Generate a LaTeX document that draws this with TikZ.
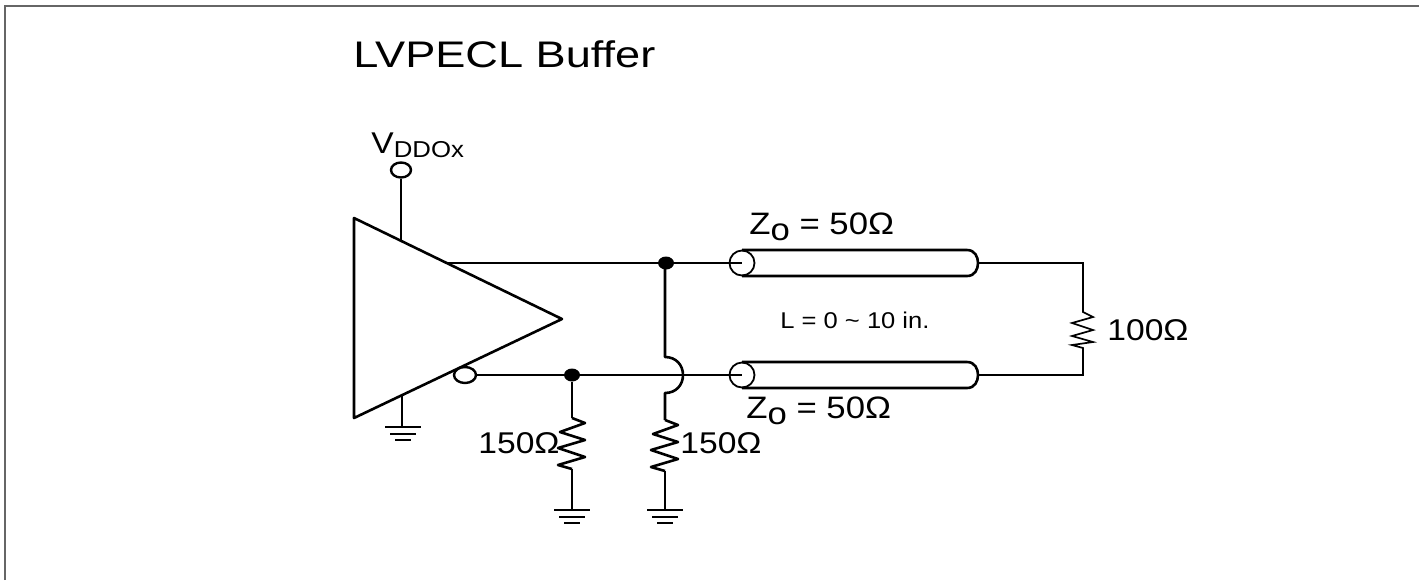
\documentclass[tikz,border=0pt]{standalone}
\usepackage{fontspec}
\setmainfont[FakeStretch=1.12]{Liberation Sans}
\newfontfamily\titlefont[FakeStretch=1.22]{Liberation Sans}
\usetikzlibrary{shapes.geometric}
\tikzset{
  wire/.style = {line width = 1.3pt, line join = round},
  thinwire/.style = {line width = 0.85pt},
  frameline/.style = {line width = 1pt, black!60},
  junction/.style = {ellipse, fill = black, inner sep = 0pt, minimum width = 8pt, minimum height = 6.5pt},
  pinhole/.style = {ellipse, draw, line width = 1.2pt, fill = white, inner sep = 0pt, minimum width = 10pt, minimum height = 7.5pt},
  tlinehead/.style = {ellipse, draw, line width = 0.9pt, inner sep = 0pt, minimum width = 12.5pt, minimum height = 12.5pt},
  lbl/.style = {anchor = base west, inner sep = 0pt, font = \fontsize{15}{15}\selectfont},
  zlbl/.style = {anchor = base west, inner sep = 0pt, font = \fontsize{15.5}{15.5}\selectfont},
  smalllbl/.style = {anchor = base west, inner sep = 0pt, font = \fontsize{11.4}{11.4}\selectfont}
}
\newcommand{\GndSym}[2]{
  \draw[wire] (#1 - 18, #2) -- (#1 + 18, #2);
  \draw[wire] (#1 - 13, #2 + 7) -- (#1 + 13, #2 + 7);
  \draw[wire] (#1 - 8, #2 + 13) -- (#1 + 8, #2 + 13);
}
\newcommand{\ResTall}[3]{
  \coordinate (#1top) at (#2, #3);
  \coordinate (#1bot) at (#2, #3 + 51);
  \draw[wire] (#1top) -- ++(13, 5) -- ++(-25, 9) -- ++(25, 8) -- ++(-27, 8) -- ++(27, 9) -- ++(-27, 8) -- (#1bot);
}
\newcommand{\TLine}[2]{
  \node[tlinehead] (#1) at (742, #2) {};
  \draw[wire] (742, #2 - 13) -- (967, #2 - 13) .. controls (975, #2 - 13) and (978, #2 - 6) .. (978, #2)
    .. controls (978, #2 + 6) and (975, #2 + 13) .. (967, #2 + 13) -- (742, #2 + 13);
  \coordinate (#1end) at (978, #2);
}
\begin{document}
\begin{tikzpicture}[x = 0.5pt, y = -0.5pt]
\useasboundingbox (0, 0) rectangle (1419, 580);
\draw[frameline] (5, 580) -- (5, 6) -- (1419, 6);

\node[anchor = base west, inner sep = 0pt, font = \titlefont\fontsize{18.5}{18.5}\selectfont] (title) at (353, 67) {LVPECL Buffer};

% buffer
\coordinate (bufA) at (354, 218);
\coordinate (bufB) at (354, 418);
\coordinate (bufC) at (562, 319);
\draw[wire] (bufA) -- (bufC) -- (bufB) -- cycle;

\node[pinhole] (vdd) at (401, 170) {};
\coordinate (vddin) at (401, 240);
\draw[wire] (vdd) -- (vddin);
\node[lbl] (vddlbl) at (371, 153) {V{\fontsize{11.5}{11.5}\selectfont\raisebox{-2pt}{DDOx}}};

\coordinate (bufgnd) at (402, 396);
\coordinate (bufgndb) at (402, 427);
\draw[wire] (bufgnd) -- (bufgndb);
\GndSym{403}{427}

\node[pinhole, minimum width = 11pt, minimum height = 8pt] (inv) at (465, 375) {};
\coordinate (outp) at (447, 263);

% lines
\TLine{tlA}{263}
\TLine{tlB}{375}
\node[junction] (dotA) at (666, 263) {};
\node[junction] (dotB) at (572, 375) {};
\draw[wire] (outp) -- (dotA) -- (tlA.center);
\draw[wire] (inv) -- (dotB) -- (tlB.center);

% 150 ohm legs
\ResTall{rA}{572}{418}
\draw[wire] (dotB) -- (rAtop);
\coordinate (gndA) at (572, 510);
\draw[wire] (rAbot) -- (gndA);
\GndSym{572}{510}

\ResTall{rB}{665}{420}
\coordinate (hopA) at (665, 357);
\coordinate (hopB) at (665, 393);
\draw[wire] (dotA.center) ++(-1, 0) -- (hopA) .. controls (676, 357) and (683, 365) .. (683, 375)
  .. controls (683, 385) and (676, 393) .. (hopB) -- (rBtop);
\coordinate (gndB) at (665, 510);
\draw[wire] (rBbot) -- (gndB);
\GndSym{665}{510}

% far end
\coordinate (rCtop) at (1083, 312);
\coordinate (rCbot) at (1083, 348);
\coordinate (farA) at (1083, 263);
\coordinate (farB) at (1083, 375);
\draw[thinwire] (tlAend) -- (farA) -- (rCtop) -- ++(10, 5) -- ++(-21, 6) -- ++(21, 7) -- ++(-21, 6) -- ++(21, 6) -- ++(-21, 3) -- (rCbot) -- (farB) -- (tlBend);

\node[zlbl] (zA) at (749, 234) {Z\raisebox{-3pt}{o} = 50Ω};
\node[zlbl] (zB) at (746, 418) {Z\raisebox{-3pt}{o} = 50Ω};
\node[smalllbl] (len) at (780, 328) {L = 0 \textasciitilde{} 10 in.};
\node[lbl] (rClbl) at (1107, 340) {100Ω};
\node[lbl] (rAlbl) at (478, 453) {150Ω};
\node[lbl] (rBlbl) at (680, 453) {150Ω};
\end{tikzpicture}
\end{document}
